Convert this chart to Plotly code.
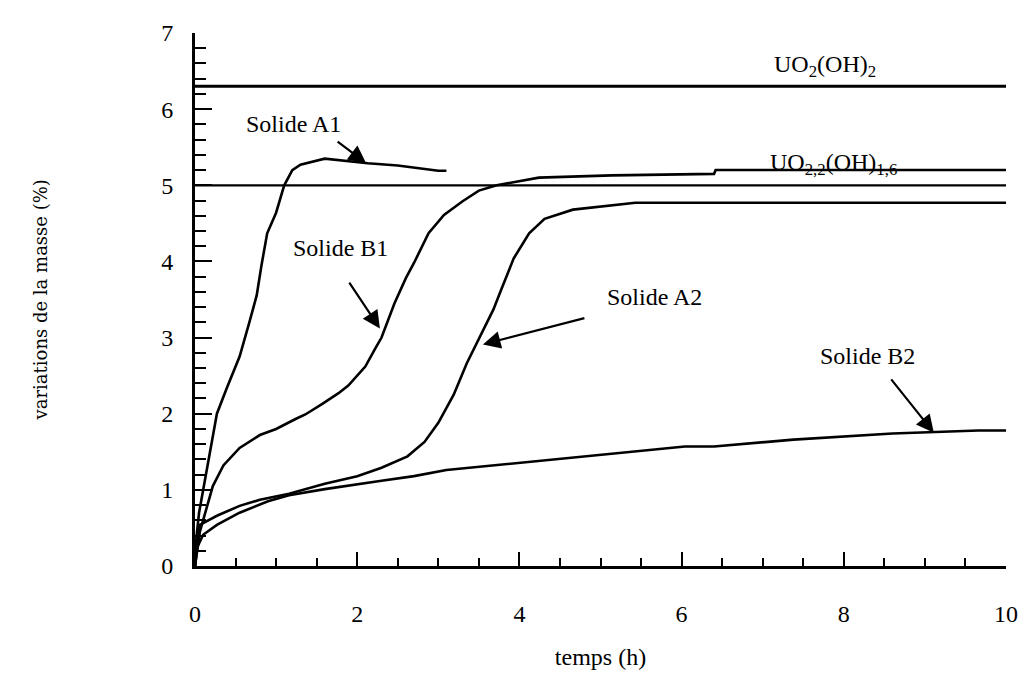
import plotly.graph_objects as go

# temps (h) et variation de masse (%)
a1_t = [0, 0.02, 0.05, 0.1, 0.18, 0.27, 0.39, 0.55, 0.67, 0.76, 0.82, 0.89, 1.0, 1.1, 1.2, 1.3, 1.6, 2.13, 2.5, 3.0, 3.1]
a1_m = [0, 0.4, 0.7, 1.0, 1.5, 2.0, 2.33, 2.75, 3.2, 3.55, 3.95, 4.37, 4.64, 5.0, 5.2, 5.27, 5.35, 5.29, 5.26, 5.19, 5.19]

b1_t = [0, 0.03, 0.06, 0.14, 0.22, 0.35, 0.55, 0.8, 1.0, 1.24, 1.36, 1.57, 1.77, 1.89, 2.1, 2.22, 2.3,
        2.46, 2.6, 2.7, 2.88, 3.07, 3.3, 3.5, 3.72, 4.24, 5.14, 6.4, 6.42, 10]
b1_m = [0, 0.25, 0.45, 0.75, 1.05, 1.32, 1.55, 1.72, 1.8, 1.93, 1.99, 2.13, 2.27, 2.37, 2.62, 2.85, 3.0,
        3.45, 3.78, 3.98, 4.37, 4.61, 4.79, 4.93, 5.0, 5.1, 5.13, 5.15, 5.2, 5.2]

a2_t = [0, 0.02, 0.06, 0.27, 0.55, 0.8, 1.16, 1.6, 2.0, 2.3, 2.62, 2.83, 3.0, 3.11, 3.19, 3.35, 3.51,
        3.68, 3.78, 3.93, 4.12, 4.31, 4.66, 5.43, 10]
a2_m = [0, 0.35, 0.54, 0.66, 0.79, 0.87, 0.95, 1.08, 1.18, 1.29, 1.44, 1.63, 1.88, 2.1, 2.25, 2.66, 3.0,
        3.37, 3.64, 4.04, 4.37, 4.56, 4.68, 4.77, 4.77]

b2_t = [0, 0.03, 0.1, 0.27, 0.55, 0.9, 1.16, 1.6, 2.3, 2.7, 3.1, 4.12, 5.34, 6.04, 6.4, 7.38, 8.6, 9.09, 9.66, 10]
b2_m = [0, 0.25, 0.41, 0.54, 0.7, 0.85, 0.93, 1.01, 1.12, 1.18, 1.26, 1.37, 1.5, 1.57, 1.57, 1.66, 1.74, 1.76, 1.78, 1.78]

# niveaux théoriques
ref_t = [0, 10]
uo2_oh2 = [6.3, 6.3]
uo22_oh16 = [5.0, 5.0]

x_ticks = [0, 2, 4, 6, 8, 10]
y_ticks = [0, 1, 2, 3, 4, 5, 6, 7]

SERIF = "Liberation Serif"

fig = go.Figure()

fig.add_trace(go.Scatter(x=ref_t, y=uo2_oh2, mode='lines', line=dict(color='black', width=3), showlegend=False))
fig.add_trace(go.Scatter(x=ref_t, y=uo22_oh16, mode='lines', line=dict(color='black', width=2.2), showlegend=False))

for t, m in [(a1_t, a1_m), (b1_t, b1_m), (a2_t, a2_m), (b2_t, b2_m)]:
    fig.add_trace(go.Scatter(x=t, y=m, mode='lines', line=dict(color='black', width=2.6),
                             showlegend=False))

# étiquettes avec flèches
labels = [
    ("Solide A1", 1.22, 5.80, 1.74, 5.59, 2.11, 5.29),
    ("Solide B1", 1.80, 4.18, 1.89, 3.74, 2.28, 3.12),
    ("Solide A2", 5.67, 3.53, 4.82, 3.26, 3.55, 2.91),
    ("Solide B2", 8.29, 2.76, 8.57, 2.47, 9.11, 1.75),
]
for text, tx, ty, x0, y0, x1, y1 in labels:
    fig.add_annotation(x=tx, y=ty, text=text, showarrow=False,
                       font=dict(family=SERIF, size=24, color='black'))
    fig.add_annotation(x=x1, y=y1, ax=x0, ay=y0, xref='x', yref='y', axref='x', ayref='y',
                       text='', showarrow=True, arrowhead=2, arrowsize=1.6, arrowwidth=2.2,
                       arrowcolor='black')

fig.add_annotation(x=7.77, y=6.57, text="UO<sub>2</sub>(OH)<sub>2</sub>", showarrow=False,
                   font=dict(family=SERIF, size=24, color='black'))
fig.add_annotation(x=7.07, y=5.28, xanchor='left', text="UO<sub>2,2</sub>(OH)<sub>1,6</sub>", showarrow=False,
                   font=dict(family=SERIF, size=24, color='black'))

fig.add_annotation(x=-0.19, y=0.5, xref='paper', yref='paper', xanchor='center',
                   text="variations de la masse (%)", textangle=-90, showarrow=False,
                   font=dict(family="DejaVu Serif", size=18, color='black'))

fig.update_xaxes(
    range=[0, 10], tickvals=x_ticks, ticks='inside', ticklen=14, tickwidth=2, tickcolor='black',
    minor=dict(dtick=0.5, ticks='inside', ticklen=8, tickwidth=2, tickcolor='black'),
    showline=True, linewidth=3, linecolor='black', showgrid=False, zeroline=False,
    tickfont=dict(family=SERIF, size=24, color='black'), ticklabelstandoff=24,
    title=dict(text="temps (h)", font=dict(family=SERIF, size=24, color='black'), standoff=23),
)
fig.update_yaxes(
    range=[0, 7], tickvals=y_ticks, ticks='inside', ticklen=17, tickwidth=2, tickcolor='black',
    minor=dict(dtick=0.2, ticks='inside', ticklen=11, tickwidth=2, tickcolor='black'),
    showline=True, linewidth=3, linecolor='black', showgrid=False, zeroline=False,
    tickfont=dict(family=SERIF, size=24, color='black'), ticklabelstandoff=14,
)

# la page a une marge de 8 px : figure un peu plus petite pour garder les positions
fig.update_layout(
    width=1022, height=671,
    margin=dict(l=187, r=15, t=14, b=96),
    plot_bgcolor='white', paper_bgcolor='white',
)

fig.write_html("out.html")
